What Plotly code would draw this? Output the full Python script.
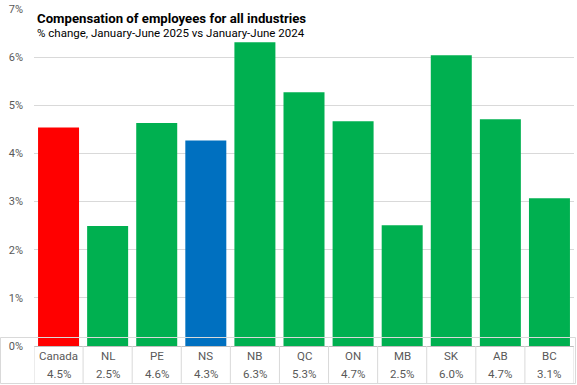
import plotly.graph_objects as go

categories = ["Canada", "NL", "PE", "NS", "NB", "QC", "ON", "MB", "SK", "AB", "BC"]
values = [4.54, 2.49, 4.63, 4.27, 6.31, 5.27, 4.67, 2.51, 6.04, 4.71, 3.07]
value_labels = ["4.5%", "2.5%", "4.6%", "4.3%", "6.3%", "5.3%", "4.7%", "2.5%", "6.0%", "4.7%", "3.1%"]
bar_colors = ["#ff0000", "#00b050", "#00b050", "#0070c0", "#00b050", "#00b050",
              "#00b050", "#00b050", "#00b050", "#00b050", "#00b050"]
y_ticks = [0, 1, 2, 3, 4, 5, 6, 7]
y_tick_labels = ["0%", "1%", "2%", "3%", "4%", "5%", "6%", "7%"]

title = "Compensation of employees for all industries"
subtitle = "% change, January-June 2025 vs January-June 2024"

FONT = "Roboto, Arial, sans-serif"
TXT = "#595959"

fig = go.Figure(go.Bar(
    x=list(range(len(categories))), y=values,
    marker=dict(color=bar_colors, line=dict(width=0)),
    hoverinfo="skip",
))

shapes = []
for i in range(len(categories) + 1):
    shapes.append(dict(type="line", xref="x", yref="paper",
                       x0=i - 0.5, x1=i - 0.5, y0=0, y1=-37 / 337,
                       line=dict(color="#d9d9d9", width=1)))
# outer chart border
shapes.append(dict(type="rect", xref="paper", yref="paper",
                   x0=-33.5 / 540, x1=541.5 / 540, y0=-37.5 / 337, y1=8.5 / 337,
                   line=dict(color="#d9d9d9", width=1)))

annotations = []
for i, (c, v) in enumerate(zip(categories, value_labels)):
    annotations.append(dict(x=i, y=0, xref="x", yref="paper", text=c, showarrow=False,
                            yanchor="middle", yshift=-10,
                            font=dict(family=FONT, size=11.5, color=TXT)))
    annotations.append(dict(x=i, y=0, xref="x", yref="paper", text=v, showarrow=False,
                            yanchor="middle", yshift=-28,
                            font=dict(family=FONT, size=11.5, color=TXT)))
annotations.append(dict(x=3 / 540, y=1, xref="paper", yref="paper", text="<b>" + title + "</b>",
                        showarrow=False, xanchor="left", yanchor="top", yshift=0,
                        xshift=-2,
                        font=dict(family=FONT, size=13.2, color="#000000")))
annotations.append(dict(x=3 / 540, y=1, xref="paper", yref="paper", text=subtitle,
                        showarrow=False, xanchor="left", yanchor="top", yshift=-15,
                        xshift=-2,
                        font=dict(family=FONT, size=11.5, color="#000000")))

fig.update_layout(
    width=577, height=385,
    margin=dict(l=34, r=3, t=9, b=39, autoexpand=False),
    paper_bgcolor="white", plot_bgcolor="white",
    bargap=0.165, showlegend=False,
    xaxis=dict(range=[-0.5, len(categories) - 0.5], showticklabels=False, showgrid=False,
               zeroline=False, showline=False, ticks="", fixedrange=True, automargin=False),
    yaxis=dict(range=[0, 7], tickvals=y_ticks, ticktext=y_tick_labels,
               showgrid=True, gridcolor="#d9d9d9", gridwidth=1,
               zeroline=True, zerolinecolor="#bfbfbf", zerolinewidth=1,
               ticks="", ticklabelstandoff=10, automargin=False,
               tickfont=dict(family=FONT, size=11, color=TXT), fixedrange=True),
    shapes=shapes, annotations=annotations,
)

fig.write_html("out.html", config={"displayModeBar": False},
               post_script="document.body.style.margin='0';")
